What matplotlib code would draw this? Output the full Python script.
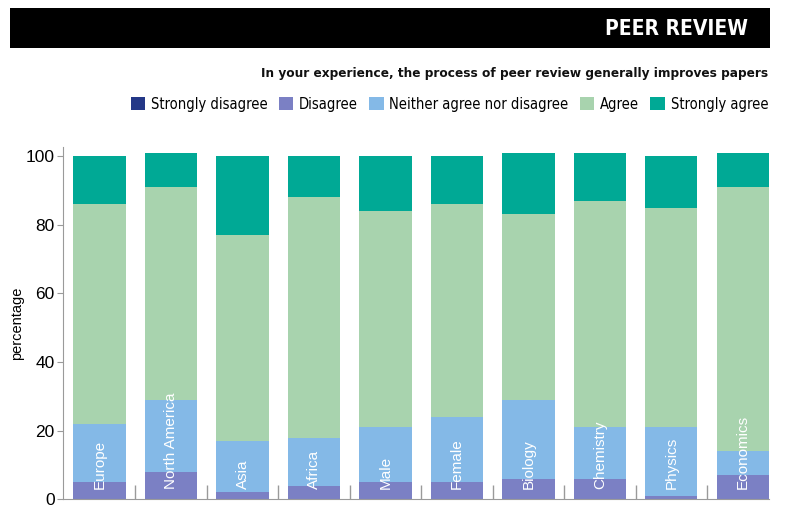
import matplotlib.pyplot as plt
from matplotlib.patches import Rectangle, Patch
import numpy as np

# Chart data (percentages)
GROUPS = ["Europe", "North America", "Asia", "Africa", "Male",
          "Female", "Biology", "Chemistry", "Physics", "Economics"]
STRONGLY_DISAGREE = [0, 0, 0, 0, 0, 0, 0, 0, 0, 0]
DISAGREE = [5, 8, 2, 4, 5, 5, 6, 6, 1, 7]
NEITHER = [17, 21, 15, 14, 16, 19, 23, 15, 20, 7]
AGREE = [64, 62, 60, 70, 63, 62, 54, 66, 64, 77]
STRONGLY_AGREE = [14, 10, 23, 12, 16, 14, 18, 14, 15, 10]

SERIES_LABELS = ["Strongly disagree", "Disagree", "Neither agree nor disagree",
                 "Agree", "Strongly agree"]
COLORS = ["#243887", "#7b80c4", "#84b9e7", "#a8d3ae", "#00a995"]

TITLE = "PEER REVIEW"
SUBTITLE = "In your experience, the process of peer review generally improves papers"
YTICKS = [0, 20, 40, 60, 80, 100]

SANS = ["Liberation Sans", "DejaVu Sans"]
AXIS_GRAY = "#9a9a9a"

plt.rcParams['font.family'] = SANS

fig = plt.figure(figsize=(7.85, 5.16), dpi=100)

# Black header band
fig.patches.append(Rectangle((0.0127, 0.907), 0.968, 0.0775, transform=fig.transFigure,
                             facecolor="black", edgecolor="none"))
fig.text(0.953, 0.944, TITLE, color="white", fontsize=15, fontweight="bold",
         family="DejaVu Sans", fontstretch="condensed", ha="right", va="center")
fig.text(0.978, 0.857, SUBTITLE, color="#111111", fontsize=9.7, fontweight="bold",
         family="DejaVu Sans", fontstretch="condensed", ha="right", va="center")

# Legend
handles = [Patch(facecolor=c, edgecolor="none") for c in COLORS]
fig.legend(handles, SERIES_LABELS, loc="center right", bbox_to_anchor=(0.986, 0.798),
           ncol=5, frameon=False, handlelength=1.0, handleheight=1.0,
           handletextpad=0.4, columnspacing=0.75, borderaxespad=0,
           prop={"family": "DejaVu Sans", "size": 10.5, "stretch": "condensed"})

ax = fig.add_axes([0.0803, 0.0324, 0.8993, 0.683])
x = np.arange(len(GROUPS))
bottom = np.zeros(len(GROUPS))
for vals, c in zip([STRONGLY_DISAGREE, DISAGREE, NEITHER, AGREE, STRONGLY_AGREE], COLORS):
    ax.bar(x, vals, width=0.73, bottom=bottom, color=c, edgecolor="none")
    bottom += np.array(vals)

for i, name in enumerate(GROUPS):
    ax.text(i, 2.9, name, rotation=90, ha="center", va="bottom", color="white",
            fontsize=11)

ax.set_xlim(-0.51, len(GROUPS) - 1 + 0.365)
ax.set_ylim(0, 102.7)
ax.set_yticks(YTICKS)
ax.set_xticks([])
ax.set_xticks(x[:-1] + 0.5, minor=True)
ax.tick_params(axis="x", which="minor", direction="in", length=10, color=AXIS_GRAY, width=1)
ax.tick_params(axis="y", length=4, color=AXIS_GRAY, labelsize=12.5, pad=2)
ax.set_ylabel("percentage", fontsize=10.5, labelpad=1)
for s in ["top", "right"]:
    ax.spines[s].set_visible(False)
for s in ["left", "bottom"]:
    ax.spines[s].set_color(AXIS_GRAY)

fig.savefig("out.png", dpi=100)
